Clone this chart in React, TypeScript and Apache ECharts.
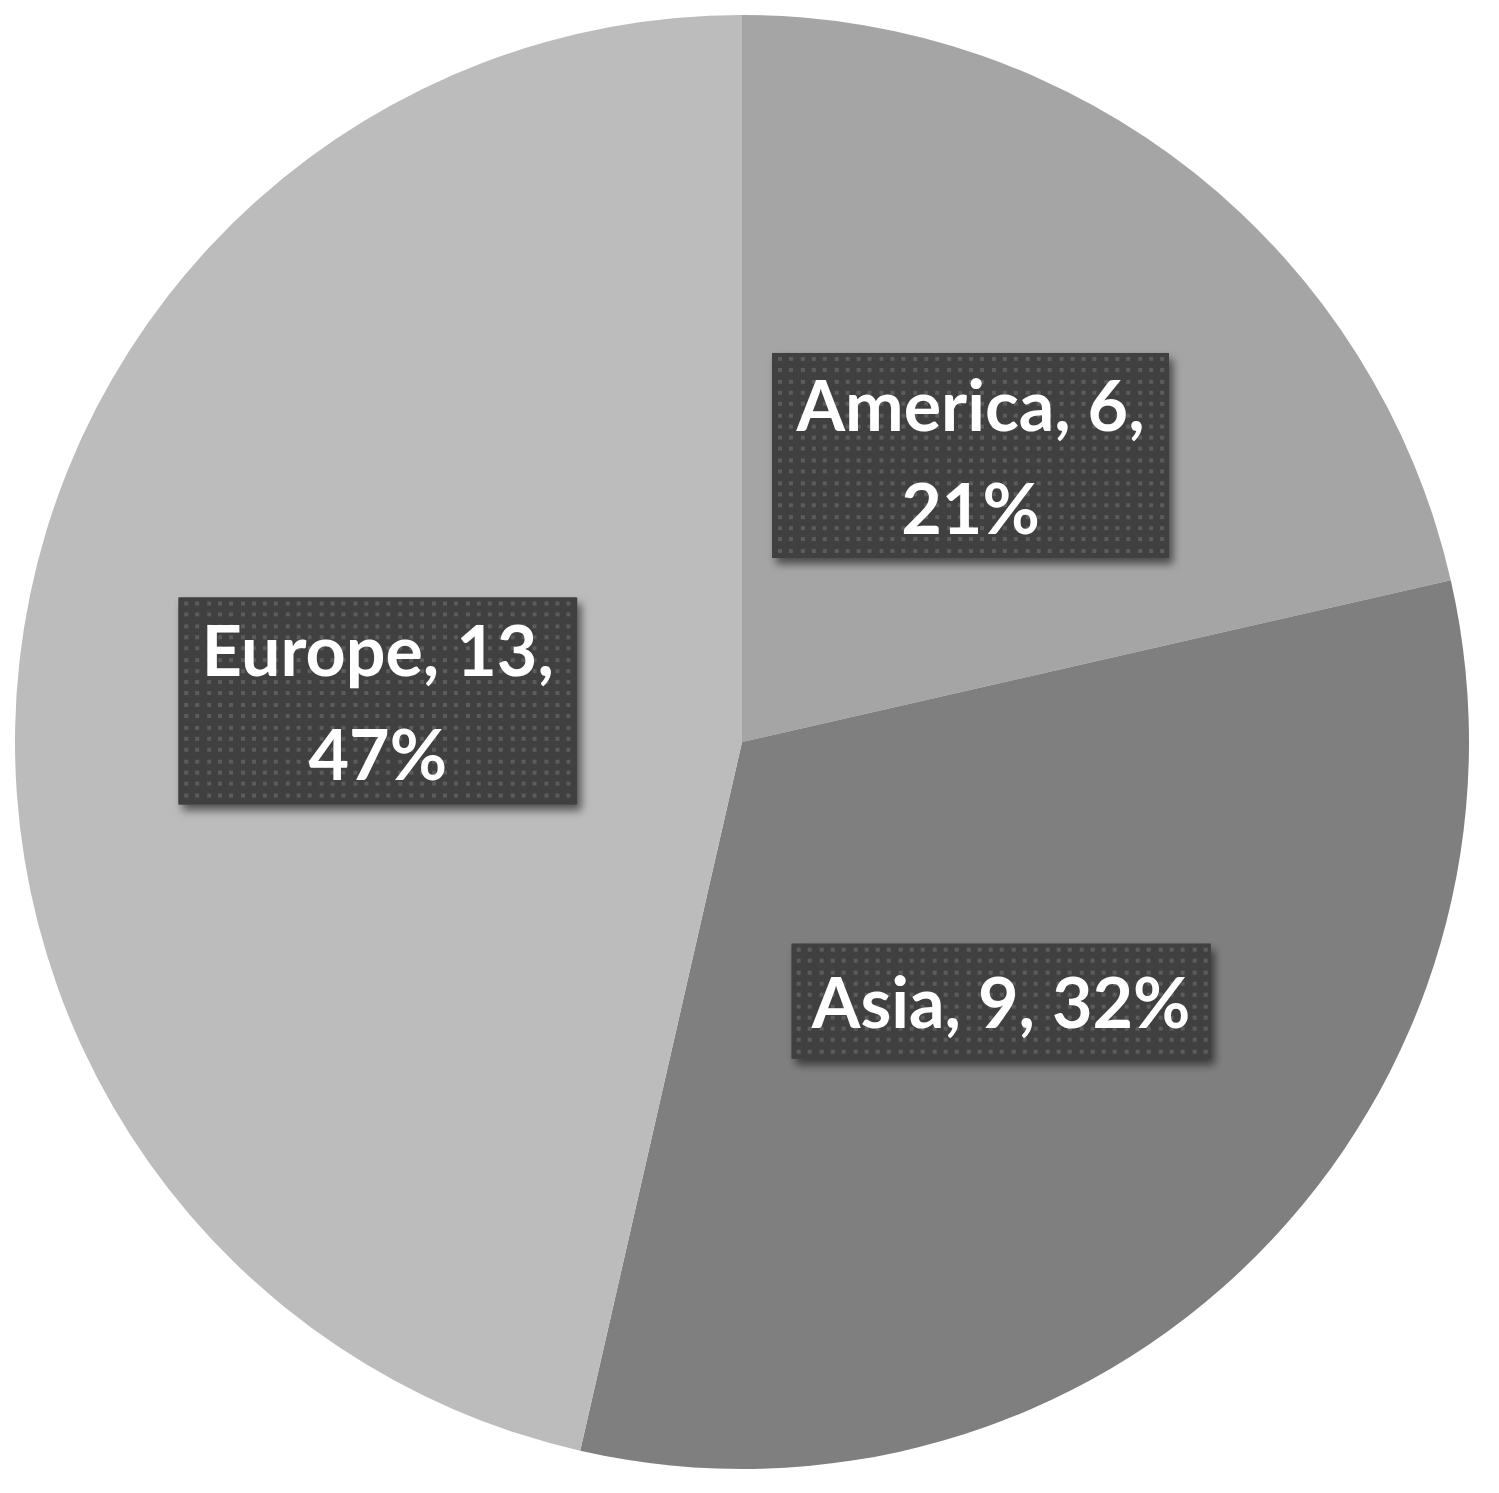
import React, { useEffect, useRef } from "react";
import * as echarts from "echarts";

const categories = ["America", "Asia", "Europe"];
const values = [6, 9, 13];
const percentLabels = ["21%", "32%", "47%"];
const colors = ["#a5a5a5", "#7f7f7f", "#bcbcbc"];
const labelLineBreak = [true, false, true];
const boxWidths = [397, 419, 399];
const boxHeights = [205, 115, 207];

function dotPattern(w: number, h: number, ox: number, oy: number): string {
  const c = document.createElement("canvas");
  c.width = Math.ceil(w);
  c.height = Math.ceil(h);
  const ctx = c.getContext("2d")!;
  ctx.fillStyle = "#404040";
  ctx.fillRect(0, 0, c.width, c.height);
  ctx.fillStyle = "#5c5c5c";
  const step = 11.3;
  for (let y = 4 - oy; y < h; y += step) {
    if (y < -3) continue;
    for (let x = 5 - ox; x < w - 2; x += step) {
      if (x < -3) continue;
      ctx.fillRect(Math.round(x), Math.round(y), 4, 4);
    }
  }
  return c.toDataURL();
}

export default function App() {
  const ref = useRef<HTMLDivElement>(null);
  useEffect(() => {
    if (!ref.current) return;
    const chart = echarts.init(ref.current, undefined, { renderer: "svg" });
    const data = categories.map((name, i) => {
      const lines = labelLineBreak[i] ? 2 : 1;
      const lh = boxHeights[i] / lines;
      const rich: any = {};
      const parts = labelLineBreak[i]
        ? [`${name}, ${values[i]},`, percentLabels[i]]
        : [`${name}, ${values[i]}, ${percentLabels[i]}`];
      parts.forEach((_, k) => {
        rich["l" + k] = {
          width: boxWidths[i],
          height: lh,
          lineHeight: lh,
          align: "center",
          verticalAlign: "middle",
          color: "#ffffff",
          fontFamily: "Lato",
          fontWeight: "bold",
          fontSize: 70,
          backgroundColor: { image: dotPattern(boxWidths[i], lh, 0, k * lh) },
        };
      });
      return {
        name,
        value: values[i],
        itemStyle: { color: colors[i] },
        label: {
          formatter: parts.map((p, k) => `{l${k}|${p}}`).join("\n"),
          rich,
        },
      };
    });
    chart.setOption({
      animation: false,
      series: [
        {
          type: "pie",
          center: [742, 742],
          radius: [0, 727],
          startAngle: 90,
          clockwise: true,
          avoidLabelOverlap: false,
          label: {
            show: true,
            position: "inside",
            color: "#ffffff",
            fontFamily: "Lato",
            fontWeight: "bold",
            fontSize: 70,
            padding: 0,
            backgroundColor: "#404040",
            shadowColor: "rgba(0,0,0,0.55)",
            shadowBlur: 8,
            shadowOffsetX: 4,
            shadowOffsetY: 6,
          },
          labelLine: { show: false },
          emphasis: { disabled: true },
          data,
        },
      ],
    });
    return () => chart.dispose();
  }, []);
  return (
    <div
      ref={ref}
      style={{ position: "fixed", left: 0, top: 0, width: 1499, height: 1493, background: "#ffffff" }}
    />
  );
}
